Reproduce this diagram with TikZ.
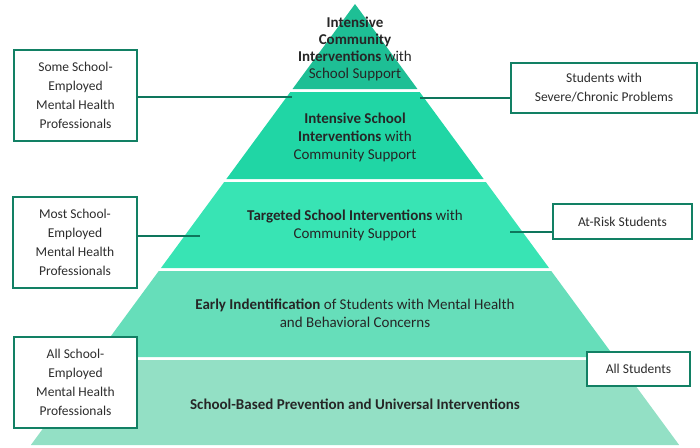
\documentclass[tikz,border=0pt]{standalone}
\usepackage{fontspec}
\setmainfont{Carlito}
\usepackage{tikz}
\usetikzlibrary{calc}
\definecolor{tierA}{RGB}{30,191,149}
\definecolor{tierB}{RGB}{32,214,165}
\definecolor{tierC}{RGB}{56,228,180}
\definecolor{tierD}{RGB}{102,222,186}
\definecolor{tierE}{RGB}{147,224,197}
\definecolor{boxgreen}{RGB}{18,128,100}
\definecolor{linkgreen}{RGB}{14,118,92}
\definecolor{txtgray}{RGB}{45,45,45}
\tikzset{
  staff/.style={draw=boxgreen, line width=2.5pt, fill=white, align=center, text=txtgray,
    inner sep=2pt, font=\fontsize{13.5}{19}\selectfont},
  tiertext/.style={align=center, text=black!85, font=\fontsize{15}{18}\selectfont},
  link/.style={draw=linkgreen, line width=2.6pt}
}

\begin{document}
\begin{tikzpicture}[x=1pt, y=-1pt]
    \useasboundingbox (0,0) rectangle (700,447);
    % pyramid tiers
    \foreach \top/\bot/\col in {4/89/tierA, 92/179/tierB, 182/268/tierC, 271/357/tierD, 360/445/tierE}{
      \pgfmathsetmacro\wt{0.735*(\top-4)}
      \pgfmathsetmacro\wb{0.735*(\bot-4)}
      \fill[\col] ({355-\wt},\top) -- ({355+\wt},\top) -- ({355+\wb},\bot) -- ({355-\wb},\bot) -- cycle;
    }
    \node[tiertext, font=\fontsize{15}{17}\selectfont] (t1) at (355,49) {\textbf{Intensive}\\\textbf{Community}\\\textbf{Interventions} with\\School Support};
    \node[tiertext] (t2) at (355,137) {\textbf{Intensive School}\\\textbf{Interventions} with\\Community Support};
    \node[tiertext] (t3) at (355,225) {\textbf{Targeted School Interventions} with\\Community Support};
    \node[tiertext] (t4) at (355,313) {\textbf{Early Indentification} of Students with Mental Health\\and Behavioral Concerns};
    \node[tiertext] (t5) at (355,404) {\textbf{School-Based Prevention and Universal Interventions}};
    % side boxes
    \node[staff, minimum width=123pt, minimum height=91pt] (some) at (75.5,95.5) {Some School-\\Employed\\Mental Health\\Professionals};
    \node[staff, minimum width=186pt, minimum height=50pt] (severe) at (604,88) {Students with\\Severe/Chronic Problems};
    \node[staff, minimum width=124pt, minimum height=91pt] (most) at (75,242.5) {Most School-\\Employed\\Mental Health\\Professionals};
    \node[staff, minimum width=139pt, minimum height=35pt] (atrisk) at (622.5,221.5) {At-Risk Students};
    \node[staff, minimum width=123pt, minimum height=91pt] (all) at (75.5,382.5) {All School-\\Employed\\Mental Health\\Professionals};
    \node[staff, minimum width=103pt, minimum height=34pt] (allstud) at (638.5,369) {All Students};
    % connectors
    \coordinate (c1) at (292,97);
    \coordinate (c2) at (420,98);
    \coordinate (c3) at (200,236);
    \coordinate (c4) at (510,232);
    \draw[link] (some.east |- c1) -- (c1);
    \draw[link] (c2) -- (severe.west |- c2);
    \draw[link] (most.east |- c3) -- (c3);
    \draw[link] (c4) -- (atrisk.west |- c4);
  \end{tikzpicture}
\end{document}
